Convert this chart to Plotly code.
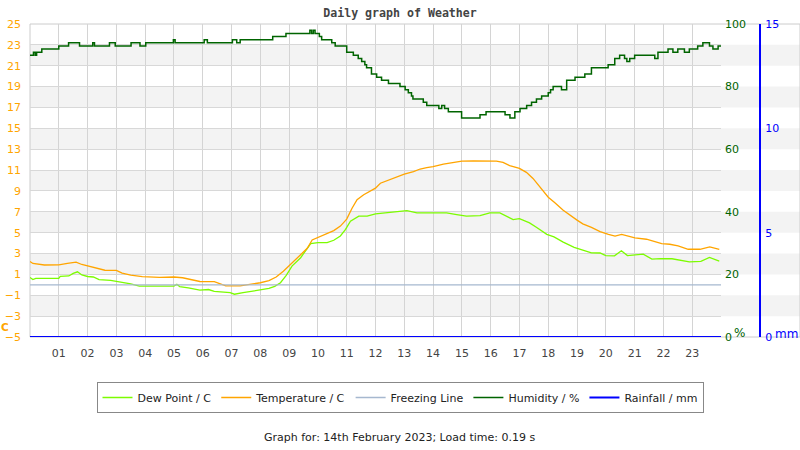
import plotly.graph_objects as go

# ---------------- data ----------------
temp_t = [0.0, 0.1, 0.5, 1.0, 1.3, 1.6, 1.8, 2.1, 2.35, 2.6, 3.0, 3.2, 3.5, 3.9, 4.5, 5.0, 5.3, 5.6, 5.9,
          6.4, 6.8, 7.3, 7.7, 8.0, 8.3, 8.55, 8.8, 9.0, 9.2, 9.4, 9.63, 9.8, 10.03, 10.32, 10.55, 10.78,
          11.0, 11.19, 11.36, 11.59, 11.82, 12.0, 12.17, 12.46, 12.74, 13.0, 13.32, 13.55, 13.78, 14.0,
          14.36, 14.7, 15.0, 15.4, 15.86, 16.2, 16.43, 16.66, 17.0, 17.24, 17.47, 17.7, 18.0, 18.22,
          18.52, 19.0, 19.2, 19.5, 19.8, 20.09, 20.32, 20.55, 20.78, 21.01, 21.41, 21.7, 21.94, 22.22,
          22.51, 22.86, 23.27, 23.61, 23.94]
temp_v = [2.24, 2.05, 1.9, 1.92, 2.05, 2.17, 1.95, 1.75, 1.57, 1.4, 1.38, 1.13, 0.94, 0.78, 0.72, 0.75,
          0.68, 0.48, 0.32, 0.3, -0.1, -0.1, 0.05, 0.2, 0.4, 0.75, 1.3, 1.85, 2.3, 2.94, 3.5, 4.3, 4.6,
          4.9, 5.2, 5.63, 6.3, 7.37, 8.16, 8.63, 8.95, 9.27, 9.74, 10.06, 10.31, 10.6, 10.85, 11.1,
          11.23, 11.32, 11.58, 11.73, 11.86, 11.89, 11.89, 11.86, 11.73, 11.42, 11.16, 10.78, 10.2,
          9.42, 8.4, 7.9, 7.15, 6.2, 5.85, 5.5, 5.1, 4.84, 4.68, 4.84, 4.68, 4.5, 4.37, 4.11, 3.95,
          3.89, 3.73, 3.41, 3.41, 3.63, 3.41]

dew_t = [0.0, 0.1, 0.2, 1.0, 1.05, 1.35, 1.5, 1.65, 1.8, 2.0, 2.2, 2.4, 2.8, 3.0, 3.2, 3.5, 3.8, 5.0,
         5.1, 5.2, 5.5, 5.9, 6.2, 6.4, 6.95, 7.1, 7.4, 7.7, 8.0, 8.3, 8.5, 8.7, 8.9, 9.1, 9.4, 9.75,
         10.0, 10.32, 10.55, 10.78, 10.96, 11.13, 11.42, 11.71, 12.0, 12.4, 12.74, 13.09, 13.44,
         13.78, 14.13, 14.47, 14.82, 15.16, 15.63, 15.97, 16.32, 16.55, 16.78, 17.0, 17.35, 17.6,
         17.95, 18.2, 18.52, 18.9, 19.15, 19.5, 19.8, 20.0, 20.3, 20.54, 20.75, 21.0, 21.3, 21.6,
         21.9, 22.3, 22.6, 22.9, 23.3, 23.6, 23.94]
dew_v = [0.71, 0.5, 0.62, 0.62, 0.81, 0.85, 1.1, 1.25, 0.95, 0.8, 0.75, 0.5, 0.43, 0.35, 0.2, 0.1,
         -0.13, -0.13, 0.05, -0.17, -0.3, -0.5, -0.45, -0.62, -0.75, -0.9, -0.75, -0.62, -0.45,
         -0.35, -0.15, 0.2, 0.9, 1.8, 2.6, 3.95, 4.04, 4.04, 4.27, 4.68, 5.31, 6.1, 6.58, 6.58, 6.8,
         6.9, 7.05, 7.11, 6.9, 6.9, 6.96, 6.9, 6.73, 6.58, 6.64, 6.9, 6.9, 6.58, 6.26, 6.35, 5.94,
         5.5, 4.84, 4.6, 4.1, 3.6, 3.35, 3.07, 3.05, 2.8, 2.78, 3.26, 2.8, 2.85, 2.94, 2.46, 2.52,
         2.5, 2.35, 2.21, 2.25, 2.62, 2.27]

hum_t = [0.0, 0.12, 0.18, 0.23, 0.41, 1.0, 1.34, 1.72, 2.18, 2.24, 2.76, 2.96, 3.51, 3.82, 4.02, 4.98,
         5.04, 6.05, 6.16, 7.03, 7.18, 7.3, 8.43, 8.89, 9.72, 9.78, 9.84, 9.9, 10.05, 10.13, 10.48,
         10.6, 11.0, 11.23, 11.4, 11.52, 11.63, 11.69, 11.86, 12.04, 12.21, 12.45, 12.85, 13.03,
         13.14, 13.25, 13.3, 13.66, 13.78, 14.12, 14.2, 14.3, 14.4, 14.53, 14.99, 15.63, 15.84, 16.5,
         16.67, 16.84, 17.02, 17.25, 17.42, 17.59, 17.77, 18.0, 18.08, 18.17, 18.46, 18.64, 18.93,
         19.27, 19.5, 20.08, 20.31, 20.48, 20.65, 20.73, 20.83, 21.0, 21.7, 21.81, 22.16, 22.33,
         22.5, 22.73, 22.9, 23.19, 23.37, 23.6, 23.72, 23.9, 24.0]
hum_v = [90, 91, 90, 91, 92, 93, 94, 93, 94, 93, 94, 93, 94, 93, 94, 95, 94, 95, 94, 95, 94, 95, 96,
         97, 98, 97, 98, 97, 96, 95, 94, 93, 91, 90, 89, 88, 87, 86, 84, 83, 82, 81, 80, 79, 78, 77,
         76, 75, 74, 74, 73, 74, 73, 72, 70, 71, 72, 71, 70, 72, 73, 74, 75, 76, 77, 78, 79, 80, 79,
         82, 83, 84, 86, 87, 89, 90, 89, 88, 89, 90, 89, 91, 92, 91, 92, 91, 92, 93, 94, 93, 92, 93, 93]

freeze_t = [0, 24]
freeze_v = [0, 0]
rain_t = [0, 24]
rain_v = [0, 0]

hour_ticks = list(range(1, 24))
hour_labels = [f"{h:02d}" for h in hour_ticks]
temp_ticks = list(range(-5, 26, 2))
hum_ticks = [0, 20, 40, 60, 80, 100]
rain_ticks = [0, 5, 10, 15]

# ---------------- styles ----------------
ORANGE = "#FFA500"
DEW = "#7CFC00"
HUM = "#006400"
FRZ = "#a6b8cf"
RAIN = "#0000FF"
FONT = "DejaVu Sans"

fig = go.Figure()
fig.add_trace(go.Scatter(x=dew_t, y=dew_v, mode="lines", name="Dew Point / C",
                         line=dict(color=DEW, width=1.3)))
fig.add_trace(go.Scatter(x=temp_t, y=temp_v, mode="lines", name="Temperature / C",
                         line=dict(color=ORANGE, width=1.3)))
fig.add_trace(go.Scatter(x=freeze_t, y=freeze_v, mode="lines", name="Freezing Line",
                         line=dict(color=FRZ, width=1.3)))
fig.add_trace(go.Scatter(x=hum_t, y=hum_v, mode="lines", name="Humidity / %", yaxis="y2",
                         line=dict(color=HUM, width=1.5, shape="hv")))
fig.add_trace(go.Scatter(x=rain_t, y=rain_v, mode="lines", name="Rainfall / mm", yaxis="y3",
                         line=dict(color=RAIN, width=2.2)))

# alternating bands
shapes = []
for lo in range(-3, 25, 4):
    shapes.append(dict(type="rect", xref="paper", yref="y", x0=0, x1=1, y0=lo, y1=lo + 2,
                       fillcolor="#f3f3f3", line=dict(width=0), layer="below"))
shapes.append(dict(type="rect", xref="paper", yref="paper", x0=0, x1=1, y0=0, y1=1,
                   line=dict(color="#cccccc", width=1), layer="below"))

W = 800
ML, MR, MT, MB = 30, 0, 24, 113
pw = W - ML - MR
dom_r = (721 - ML) / pw
rain_pos = (760 - ML) / pw
ph = 450 - MT - MB

def px(x):
    return (x - ML) / pw

def py(y):
    return (450 - MB - y) / ph

fig.update_layout(
    width=800, height=450,
    margin=dict(l=ML, r=MR, t=MT, b=MB),
    paper_bgcolor="white", plot_bgcolor="white",
    font=dict(family=FONT, size=11, color="#333"),
    title=dict(text="Daily graph of Weather", x=0.5, xref="container", xanchor="center",
               y=1 - 13 / 450, yref="container", yanchor="middle",
               font=dict(family="DejaVu Sans Mono", size=11.6, color="#444", weight="bold")),
    shapes=shapes,
    xaxis=dict(domain=[0, dom_r], range=[0, 24], tickvals=hour_ticks, ticktext=hour_labels,
               showgrid=True, gridcolor="#d4d4d4", gridwidth=1, zeroline=False, showline=False,
               ticks="", ticklabelstandoff=8, tickfont=dict(color="#444", size=11)),
    yaxis=dict(range=[-5, 25], tickvals=temp_ticks, showgrid=True, gridcolor="#d8d8d8",
               zeroline=False, showline=False, ticks="", ticklabelstandoff=8,
               tickfont=dict(color=ORANGE, size=11)),
    yaxis2=dict(range=[0, 100], tickvals=hum_ticks, overlaying="y", side="right", anchor="x",
                showgrid=False, zeroline=False, showline=False, ticks="", ticklabelstandoff=3,
                tickfont=dict(color=HUM, size=11)),
    yaxis3=dict(range=[0, 15], tickvals=rain_ticks, overlaying="y", side="right", anchor="free",
                position=rain_pos, showgrid=False, zeroline=False, showline=True,
                linecolor=RAIN, linewidth=2, ticks="", ticklabelstandoff=2,
                tickfont=dict(color=RAIN, size=11)),
    legend=dict(orientation="h", xref="container", yref="container", x=0.5, xanchor="center",
                y=1 - 382 / 450, yanchor="top", bordercolor="#888", borderwidth=1,
                font=dict(size=11, color="#222"), itemwidth=30, tracegroupgap=0,
                bgcolor="white"),
    showlegend=True,
    annotations=[
        dict(text="C", x=px(0), y=py(327), xref="paper", yref="paper", showarrow=False,
             font=dict(color=ORANGE, size=10.5, weight="bold"), xanchor="left", yanchor="middle",
             borderpad=0),
        dict(text="%", x=px(739), y=py(333), xref="paper", yref="paper", showarrow=False,
             font=dict(color=HUM, size=12), xanchor="center", yanchor="middle"),
        dict(text="mm", x=px(786), y=py(334), xref="paper", yref="paper", showarrow=False,
             font=dict(color=RAIN, size=12), xanchor="center", yanchor="middle"),
        dict(text="Graph for: 14th February 2023; Load time: 0.19 s", x=px(400), y=py(437),
             xref="paper", yref="paper", showarrow=False,
             font=dict(color="#222", size=11), xanchor="center", yanchor="middle"),
    ],
)

fig.write_html("out.html")
